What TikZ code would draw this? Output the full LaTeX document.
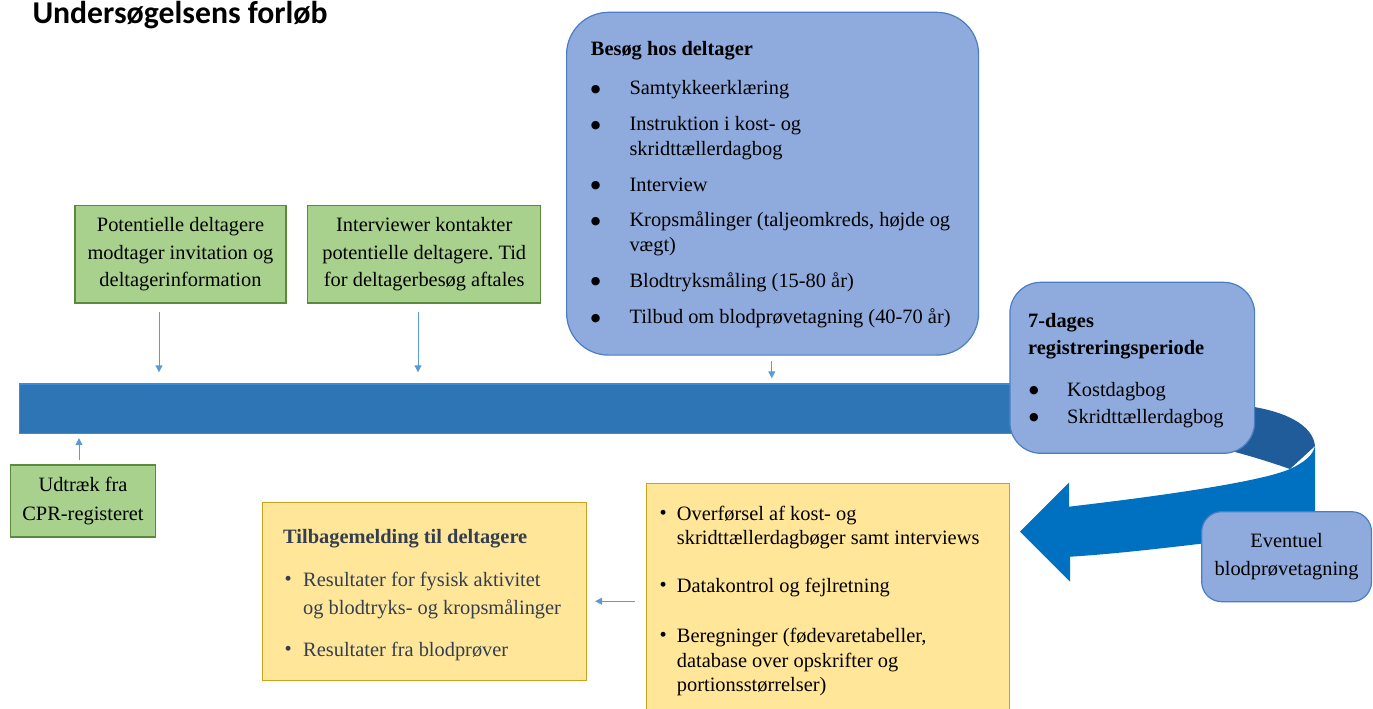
\documentclass[tikz,border=0pt]{standalone}
\usepackage{graphicx}
\usepackage{fontspec}
\setmainfont{Liberation Serif}
\newfontfamily\titlefont{Carlito}
\newfontfamily\symfont{DejaVu Sans}
\usetikzlibrary{arrows.meta,positioning}
\frenchspacing

\definecolor{barblue}{HTML}{2E75B6}
\definecolor{barline}{HTML}{3C8BDA}
\definecolor{ribbonfront}{HTML}{0070C0}
\definecolor{ribbonback}{HTML}{1F5C99}
\definecolor{boxblue}{HTML}{8FAADC}
\definecolor{boxblueline}{HTML}{4A7EC4}
\definecolor{boxgreen}{HTML}{A9D18E}
\definecolor{boxgreenline}{HTML}{5B8A3A}
\definecolor{boxyellow}{HTML}{FFE699}
\definecolor{boxyellowline}{HTML}{CFA21E}
\definecolor{arrowblue}{HTML}{5B9BD5}
\definecolor{slate}{HTML}{333F50}

% bullet with offset and hang width
\newcommand{\bul}[2]{\makebox[#2][l]{\hspace*{#1}\raisebox{2.7pt}{\symfont\fontsize{11}{11}\selectfont ●}}}
\newcommand{\sbul}[2]{\makebox[#2][l]{\hspace*{#1}\raisebox{0.8pt}{\textbullet}}}
\newcommand{\cont}[1]{\hspace*{#1}}

\begin{document}
\begin{tikzpicture}[x=1pt, y=-1pt,
  every node/.style={font=\fontsize{20.4}{27.5}\selectfont},
  greenbox/.style={draw=boxgreenline, line width=1.2pt, fill=boxgreen, align=center, inner sep=0pt},
  bluebox/.style={draw=boxblueline, line width=1.2pt, fill=boxblue, rounded corners=#1, inner sep=0pt},
  yellowbox/.style={draw=boxyellowline, line width=1.1pt, fill=boxyellow, inner sep=0pt},
  bar/.style={draw=barline, line width=1.4pt, fill=barblue, inner sep=0pt},
  listnode/.style={anchor=base west, inner sep=0pt, align=left},
  arr/.style={-{Triangle[length=7pt,width=7pt]}, arrowblue, line width=1pt}
]
\useasboundingbox (0,0) rectangle (1373,709);

% Title
\node[anchor=base west, inner sep=0pt, font=\titlefont\bfseries\fontsize{31.7}{38}\selectfont] (title) at (32.3,24) {Undersøgelsens forløb};

% Time line
\node[bar, minimum width=1225pt, minimum height=49.4pt, anchor=north west] (bar) at (19,383.3) {};

% Ribbon turning back
\fill[ribbonback] (1240,405) .. controls (1285,410) and (1313,425) .. (1315,446)
  -- (1290,469) .. controls (1270,462) and (1250,456) .. (1235,452) -- cycle;
\fill[ribbonfront] (1069,506.7) .. controls (1160,496) and (1260,482) .. (1290,469)
  .. controls (1305,462) and (1313,455) .. (1315,446) -- (1315,525) -- (1215,542)
  .. controls (1150,550) and (1100,555) .. (1070,556.7) -- (1070,581.7)
  -- (1020,531.7) -- (1069,482.7) -- cycle;

% Green boxes
\node[greenbox, minimum width=211pt, minimum height=97.3pt] (invite) at (180.5,254.4)
  {Potentielle deltagere\\modtager invitation og\\deltagerinformation};
\node[greenbox, minimum width=233pt, minimum height=97.3pt] (contact) at (424.2,254.4)
  {Interviewer kontakter\\potentielle deltagere. Tid\\for deltagerbesøg aftales};
\node[greenbox, minimum width=144.6pt, minimum height=72pt, font=\fontsize{20.4}{28.3}\selectfont] (cpr) at (83,501)
  {Udtræk fra\\CPR-registeret};

% Visit
\node[bluebox=42pt, minimum width=412pt, minimum height=342.8pt, anchor=north west] (visit) at (566,11.7) {};
\node[listnode, font=\fontsize{20.4}{24.5}\selectfont] (visittext) at (590.7,56) {\parbox[t]{385pt}{\raggedright
  \textbf{Besøg hos deltager}\\[14.5pt]
  \bul{0pt}{38.6pt}Samtykkeerklæring\\[11.3pt]
  \bul{0pt}{38.6pt}Instruktion i kost- og\\
  \cont{38.6pt}skridttællerdagbog\\[11.3pt]
  \bul{0pt}{38.6pt}Interview\\[11.3pt]
  \bul{0pt}{38.6pt}Kropsmålinger (taljeomkreds, højde og\\
  \cont{38.6pt}vægt)\\[11.8pt]
  \bul{0pt}{38.6pt}Blodtryksmåling (15-80 år)\\[11.8pt]
  \bul{0pt}{38.6pt}Tilbud om blodprøvetagning (40-70 år)}};

% Registration period
\node[bluebox=31pt, minimum width=244.7pt, minimum height=171pt, anchor=north west] (period) at (1009.3,281.7) {};
\node[listnode, font=\fontsize{20.4}{27}\selectfont] (periodtext) at (1028,327) {\parbox[t]{220pt}{\raggedright
  \textbf{7-dages}\\
  \textbf{registreringsperiode}\\[15pt]
  \bul{1pt}{39pt}Kostdagbog\\
  \bul{1pt}{39pt}Skridttællerdagbog}};

% Blood sample
\node[bluebox=20pt, minimum width=169.8pt, minimum height=90pt, align=center, font=\fontsize{20.4}{28}\selectfont] (blood) at (1286.6,556.7)
  {Eventuel\\blodprøvetagning};

% Data processing
\node[yellowbox, minimum width=363.3pt, minimum height=236pt, anchor=north west] (data) at (645.7,482.7) {};
\node[listnode, font=\fontsize{20.4}{24.5}\selectfont] (datatext) at (659,520) {\parbox[t]{345pt}{\raggedright
  \sbul{0.5pt}{17.7pt}Overførsel af kost- og\\
  \cont{17.7pt}skridttællerdagbøger samt interviews\\[23.5pt]
  \sbul{0.5pt}{17.7pt}Datakontrol og fejlretning\\[25.5pt]
  \sbul{0.5pt}{17.7pt}Beregninger (fødevaretabeller,\\
  \cont{17.7pt}database over opskrifter og\\
  \cont{17.7pt}portionsstørrelser)}};

% Feedback
\node[yellowbox, minimum width=324pt, minimum height=178pt, anchor=north west] (feedback) at (262,502) {};
\node[listnode, text=slate, font=\fontsize{20.4}{27.3}\selectfont] (feedbacktext) at (283,543) {\parbox[t]{300pt}{\raggedright
  \textbf{Tilbagemelding til deltagere}\\[16.4pt]
  \sbul{1.5pt}{20pt}Resultater for fysisk aktivitet\\
  \cont{20pt}og blodtryks- og kropsmålinger\\[15.4pt]
  \sbul{1.5pt}{20pt}Resultater fra blodprøver}};

% Arrows
\draw[arr, shorten >=11pt] ([xshift=-21.5pt, yshift=-8pt]invite.south) -- ([xshift=-21.5pt]invite.south |- bar.north);
\draw[arr, shorten >=11pt] ([xshift=-6.2pt, yshift=-8pt]contact.south) -- ([xshift=-6.2pt]contact.south |- bar.north);
\draw[arr, shorten >=5pt] ([xshift=-0.8pt, yshift=-5.5pt]visit.south) -- ([xshift=-0.8pt]visit.south |- bar.north);
\draw[arr, shorten >=4pt] ([xshift=-4pt, yshift=4.3pt]cpr.north) -- ([xshift=-4pt]cpr.north |- bar.south);
\draw[arr, shorten <=10.7pt, shorten >=8pt] (data.west) -- (feedback.east |- data.west);
\end{tikzpicture}
\end{document}
